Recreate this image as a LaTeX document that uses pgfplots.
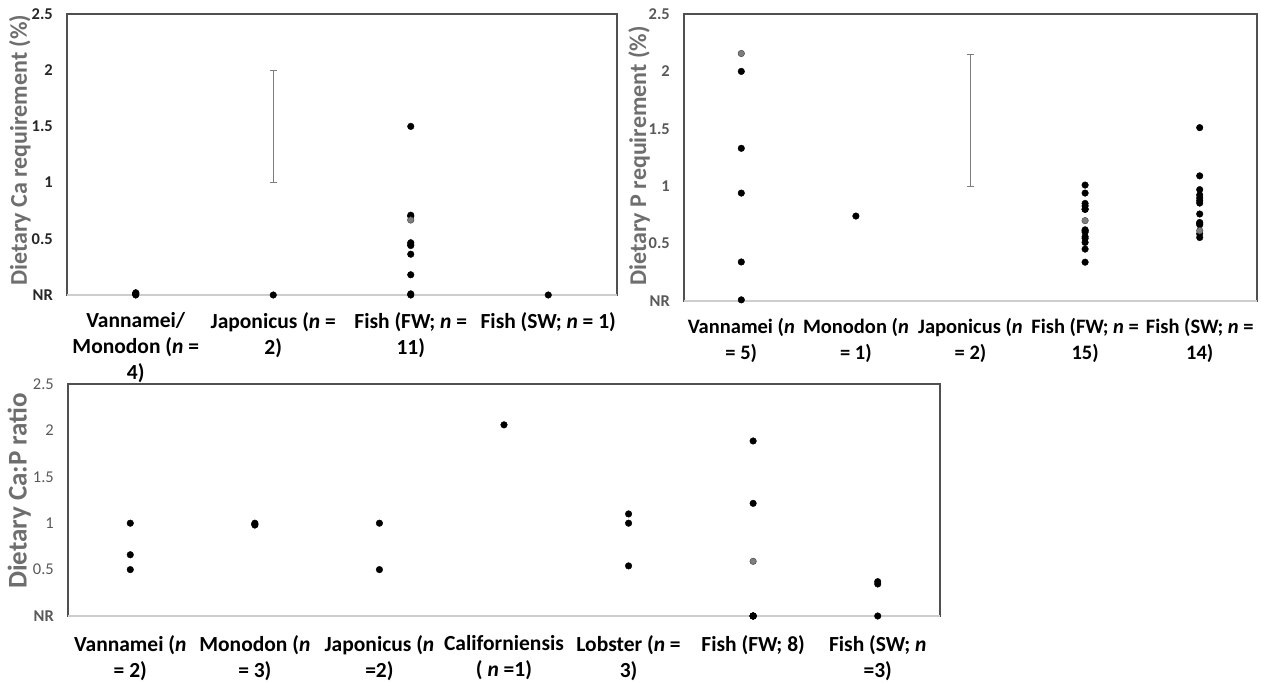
\documentclass[border=0pt]{standalone}
\usepackage{fontspec}
\setmainfont{Carlito}
\usepackage{pgfplots}
\pgfplotsset{compat=1.18}

\definecolor{boxc}{RGB}{80,80,80}
\definecolor{axc}{RGB}{205,205,205}
\definecolor{titc}{RGB}{110,110,110}
\definecolor{tickc}{RGB}{89,89,89}
\definecolor{ptgray}{RGB}{125,125,125}
\definecolor{errc}{RGB}{125,125,125}

\pgfplotsset{
  myaxis/.style={
    scale only axis, anchor=south west, clip=false,
    ymin=0, ymax=2.5, ytick={0,0.5,1,1.5,2,2.5},
    major tick length=0pt,
    axis line style={draw=boxc, line width=1.1pt},
    xticklabel style={font=\fontsize{21.5}{26}\selectfont\bfseries, align=center, anchor=north, inner sep=0pt, yshift=-17pt},
    yticklabel style={font=\fontsize{16.5}{18}\selectfont, text=tickc, anchor=east, inner sep=0pt, xshift=-14pt},
    every axis y label/.style={rotate=90, anchor=center, font=\fontsize{24}{26}\selectfont\bfseries, text=titc},
  },
  pt/.style={only marks, mark=*, mark size=3.3pt, color=black},
  gpt/.style={only marks, mark=*, mark size=3.3pt, draw=black!75, fill=ptgray},
  eb/.style={errc, line width=1pt, mark=-, mark size=3.5pt, mark options={line width=1pt}},
}

\begin{document}
\begin{tikzpicture}
\useasboundingbox (0,0) rectangle (1261pt,683pt);

% Top-left: Ca requirement
\begin{axis}[myaxis,
  at={(67pt,388pt)}, width=550pt, height=281pt,
  xmin=-0.5, xmax=3.5, xtick={0,1,2,3},
  xticklabels={{Vannamei/\\Monodon (\textit{n} =\\4)},{Japonicus (\textit{n} =\\2)},{Fish (FW; \textit{n} =\\11)},{Fish (SW; \textit{n} = 1)}},
  yticklabels={\textbf{NR},\textbf{0.5},\textbf{1},\textbf{1.5},\textbf{2},\textbf{2.5}},
  yticklabel style={text=black!85},
  ylabel={Dietary Ca requirement (\%)},
  every axis y label/.append style={at={(axis description cs:-0.0855,0.515)}},
]
\draw[axc, line width=1.6pt] (rel axis cs:0,0) -- (rel axis cs:1,0);
\addplot[eb] coordinates {(1,1) (1,2)};
\addplot[pt] coordinates {
  (0,0.01) (0,0.0) (0,0.02) (0,0.01)
  (1,0.0)
  (2,1.5) (2,0.70) (2,0.71) (2,0.465) (2,0.44) (2,0.45) (2,0.363) (2,0.18) (2,0.01) (2,0.0)
  (3,0.0)
};
\addplot[gpt] coordinates {(2,0.667)};
\end{axis}

% Top-right: P requirement
\begin{axis}[myaxis,
  at={(684pt,382pt)}, width=573pt, height=287pt,
  xmin=-0.5, xmax=4.5, xtick={0,1,2,3,4},
  xticklabels={{Vannamei (\textit{n}\\= 5)},{Monodon (\textit{n}\\= 1)},{Japonicus (\textit{n}\\= 2)},{Fish (FW; \textit{n} =\\15)},{Fish (SW; \textit{n} =\\14)}},
  xticklabel style={font=\fontsize{20.5}{26}\selectfont\bfseries},
  yticklabels={\textbf{NR},\textbf{0.5},\textbf{1},\textbf{1.5},\textbf{2},\textbf{2.5}},
  ylabel={Dietary P requirement (\%)},
  every axis y label/.append style={at={(axis description cs:-0.0785,0.505)}},
]
\draw[axc, line width=1.6pt] (rel axis cs:0,0) -- (rel axis cs:1,0);
\addplot[eb] coordinates {(2,1) (2,2.15)};
\addplot[pt] coordinates {
  (0,2.0) (0,1.33) (0,0.94) (0,0.34) (0,0.01)
  (1,0.74)
  (3,1.01) (3,0.94) (3,0.85) (3,0.828) (3,0.798) (3,0.80) (3,0.612) (3,0.60) (3,0.62) (3,0.545) (3,0.51) (3,0.452) (3,0.338) (3,0.56)
  (4,1.51) (4,1.09) (4,0.97) (4,0.924) (4,0.897) (4,0.874) (4,0.853) (4,0.758) (4,0.684) (4,0.676) (4,0.664) (4,0.585) (4,0.553)
};
\addplot[gpt] coordinates {(0,2.156) (3,0.70) (4,0.612)};
\end{axis}

% Bottom: Ca:P ratio
\begin{axis}[myaxis,
  at={(68pt,67pt)}, width=872pt, height=232pt,
  xmin=-0.5, xmax=6.5, xtick={0,1,2,3,4,5,6},
  xticklabels={{Vannamei (\textit{n}\\= 2)},{Monodon (\textit{n}\\= 3)},{Japonicus (\textit{n}\\=2)},{Californiensis\\( \textit{n} =1)},{Lobster (\textit{n} =\\3)},{Fish (FW; 8)},{Fish (SW; \textit{n}\\=3)}},
  xticklabel style={yshift=-2pt},
  yticklabels={\textbf{NR},0.5,1,1.5,2,2.5},
  ylabel={Dietary Ca:P ratio},
  every axis y label/.append style={at={(axis description cs:-0.056,0.54)}, font=\fontsize{27}{29}\selectfont\bfseries},
]
\draw[axc, line width=1.6pt] (rel axis cs:0,0) -- (rel axis cs:1,0);
\addplot[pt] coordinates {
  (0,1.0) (0,0.66) (0,0.5)
  (1,1.0) (1,0.99) (1,0.98)
  (2,1.0) (2,0.5)
  (3,2.06)
  (4,1.1) (4,1.0) (4,0.54)
  (5,1.886) (5,1.214) (5,0.0) (5,0.0) (5,0.0) (5,0.0) (5,0.0)
  (6,0.37) (6,0.345) (6,0.0)
};
\addplot[gpt] coordinates {(5,0.589)};
\end{axis}
\end{tikzpicture}
\end{document}
